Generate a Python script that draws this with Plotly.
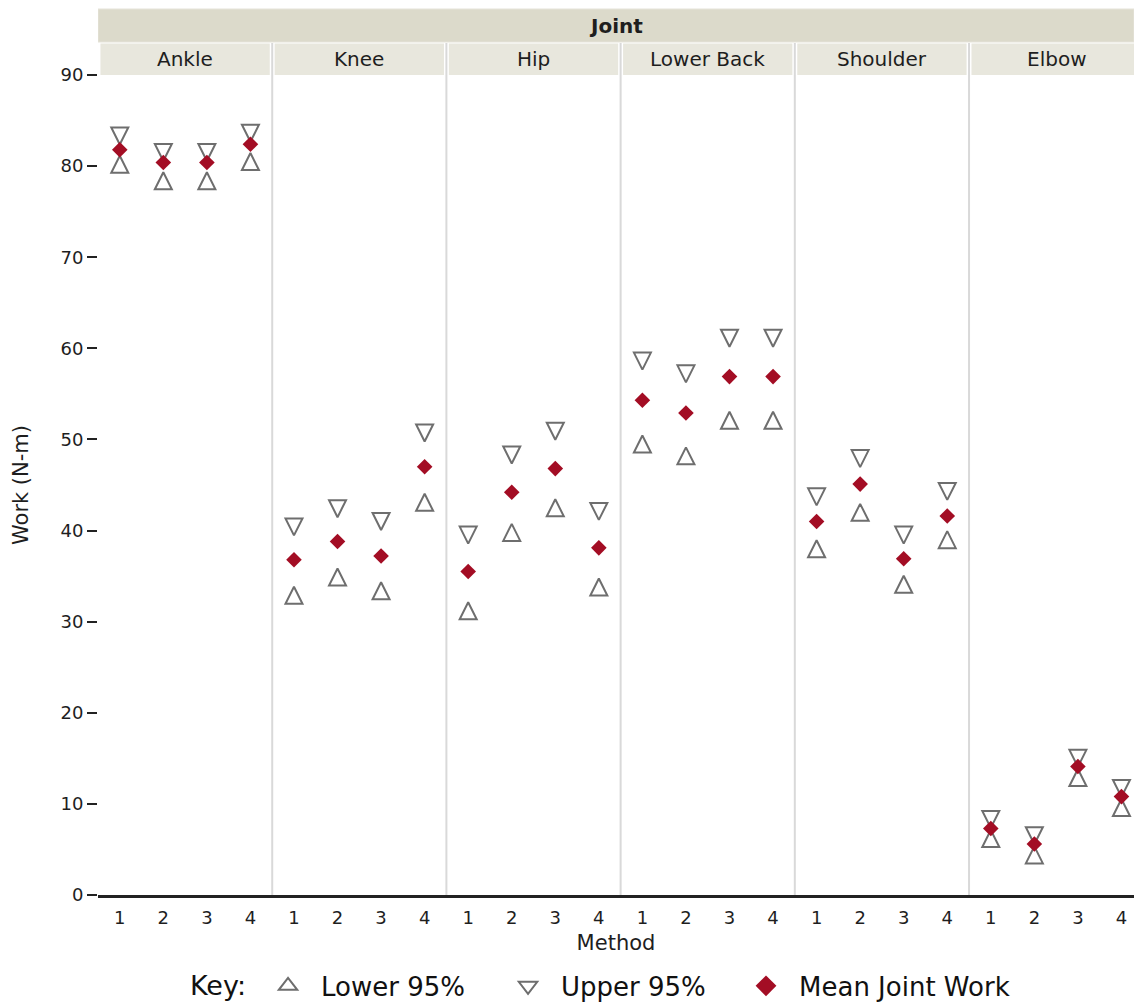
import plotly.graph_objects as go

# Joint work by joint and method: mean with lower/upper 95% limits (N-m)
joints = ["Ankle", "Knee", "Hip", "Lower Back", "Shoulder", "Elbow"]
methods = ["1", "2", "3", "4"]

mean_work = [
    [81.8, 80.4, 80.4, 82.4],   # Ankle
    [36.8, 38.8, 37.2, 47.0],   # Knee
    [35.5, 44.2, 46.8, 38.1],   # Hip
    [54.3, 52.9, 56.9, 56.9],   # Lower Back
    [41.0, 45.1, 36.9, 41.6],   # Shoulder
    [7.3, 5.6, 14.1, 10.8],     # Elbow
]
lower_95 = [
    [80.2, 78.4, 78.4, 80.5],
    [32.9, 34.9, 33.4, 43.1],
    [31.2, 39.8, 42.5, 33.8],
    [49.5, 48.2, 52.1, 52.1],
    [38.0, 42.0, 34.1, 39.0],
    [6.2, 4.4, 12.9, 9.6],
]
upper_95 = [
    [83.3, 81.5, 81.5, 83.6],
    [40.4, 42.4, 41.0, 50.7],
    [39.5, 48.3, 50.9, 42.1],
    [58.6, 57.2, 61.1, 61.1],
    [43.7, 47.9, 39.5, 44.3],
    [8.3, 6.5, 15.0, 11.7],
]
y_ticks = [0, 10, 20, 30, 40, 50, 60, 70, 80, 90]

# Each joint occupies one unit on a shared x axis; methods sit at quarter slots
n_m = len(methods)
xs, lo, hi, mu, tickvals, ticktext = [], [], [], [], [], []
for j, joint in enumerate(joints):
    for k, m in enumerate(methods):
        pos = j + (k + 0.5) / n_m
        xs.append(pos)
        tickvals.append(pos)
        ticktext.append(m)
        lo.append(lower_95[j][k])
        hi.append(upper_95[j][k])
        mu.append(mean_work[j][k])

FONT = "DejaVu Sans"
TXT = "#1e1e1e"
TRI = "#6e6e6e"
RED = "#a30d24"
tri_size = 17

fig = go.Figure()
# confidence limits: isosceles triangles centred on their values
fig.add_trace(go.Scatter(
    x=xs, y=lo, mode="markers", name="Lower 95%", showlegend=False,
    marker=dict(symbol="arrow-down-open", angle=180, standoff=tri_size / 2,
                size=tri_size, color=TRI, line=dict(color=TRI, width=2)),
))
fig.add_trace(go.Scatter(
    x=xs, y=hi, mode="markers", name="Upper 95%", showlegend=False,
    marker=dict(symbol="arrow-down-open", angle=0, standoff=tri_size / 2,
                size=tri_size, color=TRI, line=dict(color=TRI, width=2)),
))
fig.add_trace(go.Scatter(
    x=xs, y=mu, mode="markers", name="Mean Joint Work", showlegend=False,
    marker=dict(symbol="diamond", size=12, color=RED, line=dict(width=0)),
))

# key entries
for name, sym, col, lg in [("Lower 95%", "triangle-up-open", TRI, "legend"),
                           ("Upper 95%", "triangle-down-open", TRI, "legend"),
                           ("Mean Joint Work", "diamond", RED, "legend2")]:
    fig.add_trace(go.Scatter(
        x=[None], y=[None], mode="markers", name=name, legend=lg,
        marker=dict(symbol=sym, size=16, color=col,
                    line=dict(color=col, width=2 if col == TRI else 0)),
    ))

x_end = 5.947
shapes = []
# panel dividers
for j in range(1, len(joints)):
    shapes.append(dict(type="line", xref="x", yref="paper", x0=j, x1=j,
                       y0=0, y1=1.039, line=dict(color="#d9d9d9", width=2),
                       layer="below"))
# top "Joint" strip
shapes.append(dict(type="rect", xref="x", yref="paper", x0=0, x1=x_end,
                   y0=1.0402, y1=1.0805, fillcolor="#dcdacb",
                   line=dict(color="#e6e4da", width=1), layer="below"))
annotations = [dict(text="<b>Joint</b>", xref="paper", yref="paper", x=0.5,
                    y=1.0603, yanchor="middle", showarrow=False,
                    font=dict(family=FONT, size=20, color=TXT))]
# joint label boxes
for j, joint in enumerate(joints):
    shapes.append(dict(type="rect", xref="x", yref="paper", x0=j + 0.014,
                       x1=j + 1 - 0.014, y0=1.0, y1=1.0385, fillcolor="#e8e7dd",
                       line=dict(width=0), layer="below"))
    annotations.append(dict(text=joint, xref="x", yref="paper", x=j + 0.5,
                            y=1.0195, yanchor="middle", showarrow=False,
                            font=dict(family=FONT, size=20, color=TXT)))
# key heading
annotations.append(dict(text="Key:", xref="paper", yref="paper", x=0.0869,
                        y=-0.1105, xanchor="left", yanchor="middle",
                        showarrow=False,
                        font=dict(family=FONT, size=27, color="#111111")))

key_font = dict(family=FONT, size=26, color="#111111")
fig.update_layout(
    width=1134, height=1002,
    margin=dict(l=98, r=0, t=75, b=107),
    paper_bgcolor="white", plot_bgcolor="white",
    font=dict(family=FONT, color=TXT),
    shapes=shapes, annotations=annotations,
    showlegend=True,
    legend=dict(orientation="h", xref="container", yref="container",
                x=0.2249, y=0.016, xanchor="left", yanchor="middle",
                font=key_font, itemwidth=56,
                entrywidth=169, entrywidthmode="pixels"),
    legend2=dict(orientation="h", xref="container", yref="container",
                 x=0.6464, y=0.016, xanchor="left", yanchor="middle",
                 font=key_font, itemwidth=56),
    xaxis=dict(range=[0, x_end], tickvals=tickvals, ticktext=ticktext,
               showgrid=False, zeroline=False, showline=True,
               linecolor="#222222", linewidth=3, ticks="",
               tickfont=dict(family=FONT, size=18, color=TXT),
               ticklabelstandoff=4,
               title=dict(text="Method", standoff=9,
                          font=dict(family=FONT, size=21, color=TXT))),
    yaxis=dict(range=[0, 90], tickvals=y_ticks, showgrid=False, zeroline=False,
               showline=False, ticks="outside", ticklen=10, tickwidth=2,
               tickcolor="#222222",
               tickfont=dict(family=FONT, size=18, color=TXT),
               title=dict(text="Work (N-m)", standoff=26,
                          font=dict(family=FONT, size=21, color=TXT))),
)

fig.write_html("out.html")
